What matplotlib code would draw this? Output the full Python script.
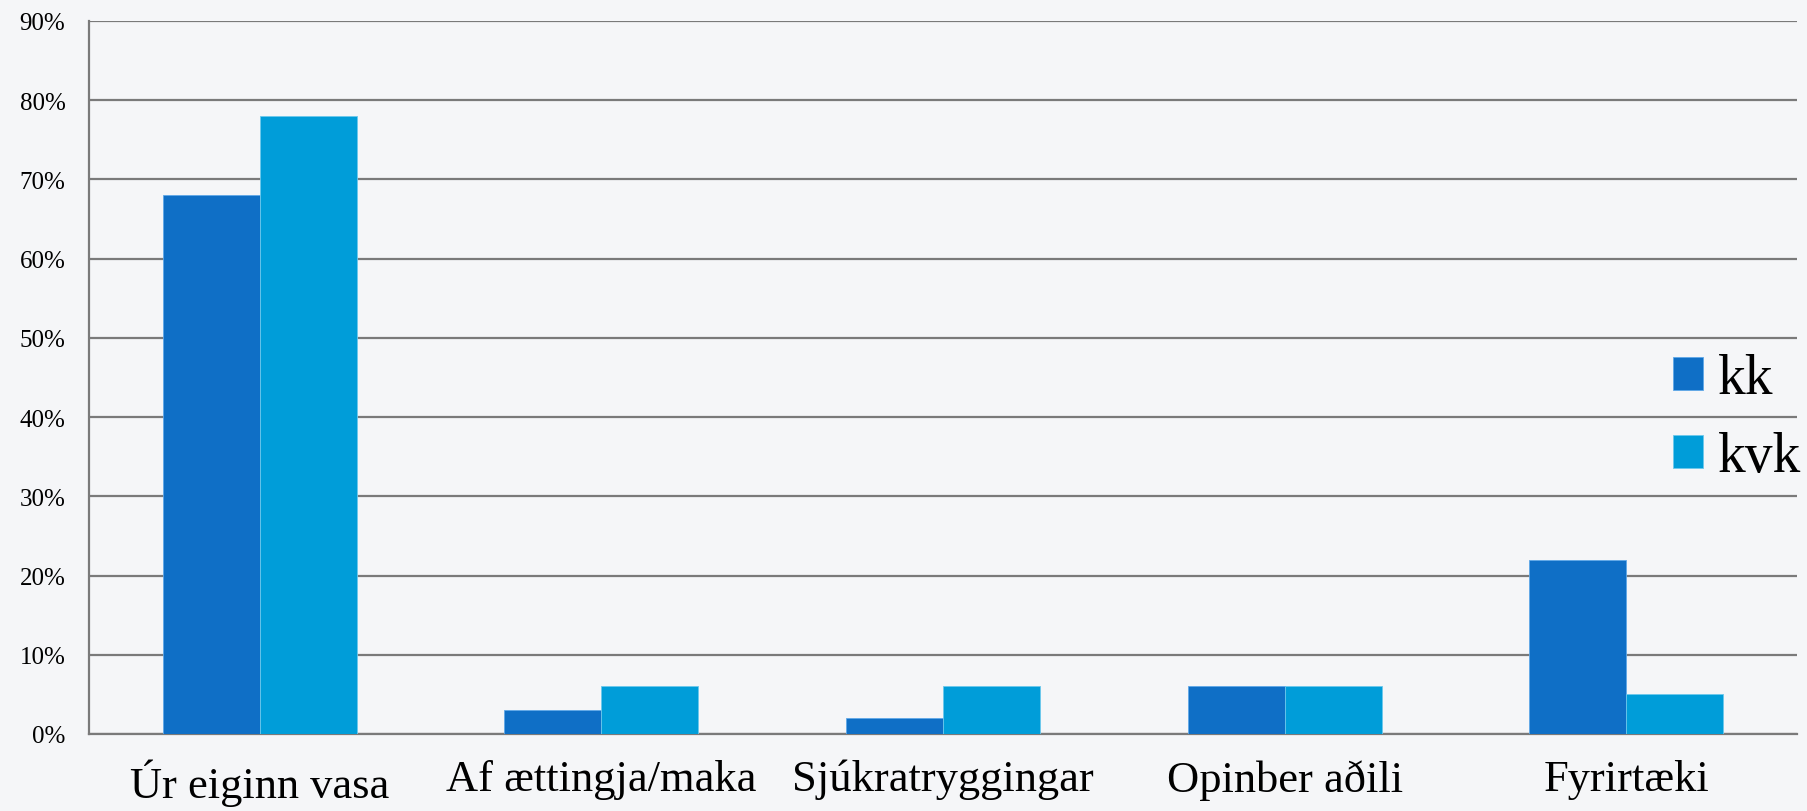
import matplotlib
matplotlib.use("Agg")
import matplotlib.pyplot as plt
import numpy as np

categories = ["Úr eiginn vasa", "Af ættingja/maka", "Sjúkratryggingar", "Opinber aðili", "Fyrirtæki"]
kk = [68, 3, 2, 6, 22]
kvk = [78, 6, 6, 6, 5]
series_names = ["kk", "kvk"]
yticks = [0, 10, 20, 30, 40, 50, 60, 70, 80, 90]
ytick_labels = [f"{v}%" for v in yticks]

c_kk = "#0F6FC6"
c_kvk = "#009DD9"
bg = "#F5F6F8"
grid_c = "#7A7A7A"

plt.rcParams['font.family'] = ['Liberation Serif', 'DejaVu Serif']

fig = plt.figure(figsize=(18.07, 8.12), dpi=100, facecolor=bg)
W, H = 1807, 812
left, right, top, bottom = 89, 1797, 22, 735
ax = fig.add_axes([left / W, 1 - bottom / H, (right - left) / W, (bottom - top) / H])
ax.set_facecolor("none")

x = np.arange(len(categories))
bw = 0.284
ax.bar(x - bw / 2, kk, width=bw, color=c_kk, edgecolor="#5FA8E8", linewidth=0.6, label=series_names[0], zorder=3)
ax.bar(x + bw / 2, kvk, width=bw, color=c_kvk, edgecolor="#6CC8EC", linewidth=0.6, label=series_names[1], zorder=3)

ax.set_xlim(-0.5, len(categories) - 0.5)
ax.set_ylim(0, 90)
ax.set_yticks(yticks)
ax.set_yticklabels(ytick_labels, fontsize=18)
ax.yaxis.grid(True, color=grid_c, linewidth=1.6, zorder=0)
ax.set_axisbelow(True)
ax.tick_params(axis="y", length=0, pad=17)
ax.tick_params(axis="x", length=0, pad=18)
ax.set_xticks(x)
ax.set_xticklabels(categories, fontsize=32)

for s in ["top", "right"]:
    ax.spines[s].set_visible(False)
ax.spines["left"].set_color(grid_c)
ax.spines["left"].set_linewidth(1.6)
ax.spines["bottom"].set_color(grid_c)
ax.spines["bottom"].set_linewidth(1.6)

leg = ax.legend(loc="upper left", bbox_to_anchor=(1673 / W, 1 - 354 / H), bbox_transform=fig.transFigure,
                frameon=False, fontsize=40, handlelength=0.54, handleheight=0.54,
                handletextpad=0.27, labelspacing=0.47, borderpad=0, borderaxespad=0)
leg.set_zorder(5)

fig.savefig("out.png", dpi=100, facecolor=bg)
